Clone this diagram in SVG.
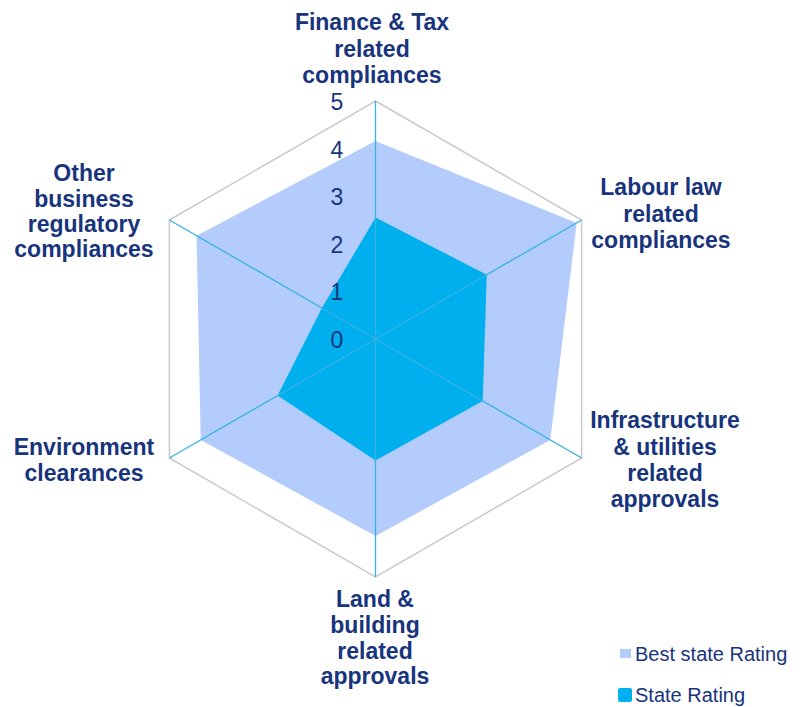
<svg xmlns="http://www.w3.org/2000/svg" width="802" height="707" viewBox="0 0 802 707">
<style>
.cat{font-family:"Liberation Sans",Arial,sans-serif;font-weight:bold;font-size:23px;fill:#17347C;text-anchor:middle}
.tick{font-family:"Liberation Sans",Arial,sans-serif;font-size:23px;fill:#17347C;text-anchor:middle}
.leg{font-family:"Liberation Sans",Arial,sans-serif;font-size:20px;fill:#17347C}
.axis{stroke:#35B2E4;stroke-width:1.3;fill:none}
</style>
<rect width="802" height="707" fill="#ffffff"/>
<g id="grid">
<polygon points="375.5,101 581.6,220 581.6,458 375.5,577 169.4,458 169.4,220" fill="none" stroke="#C9C9C9" stroke-width="1.5"/>
</g>
<g id="series-best">
<polygon points="375.5,141 576.7,222.9 550.3,439.9 375.5,536 200.7,439.9 196.6,235.7" fill="#B3CCFB"/>
</g>
<g id="series-state">
<polygon points="375.5,217.6 486.8,274.7 482.7,400.9 375.5,460.4 277.6,395.5 321.9,308.1" fill="#00B0EE"/>
</g>
<g id="connectors">
<line class="axis" x1="375.5" y1="339" x2="375.5" y2="101"/>
<line class="axis" x1="375.5" y1="339" x2="581.6" y2="220"/>
<line class="axis" x1="375.5" y1="339" x2="581.6" y2="458"/>
<line class="axis" x1="375.5" y1="339" x2="375.5" y2="577"/>
<line class="axis" x1="375.5" y1="339" x2="169.4" y2="458"/>
<line class="axis" x1="375.5" y1="339" x2="169.4" y2="220"/>
</g>
<g id="ticks">
<text class="tick" x="337" y="110">5</text>
<text class="tick" x="337" y="158">4</text>
<text class="tick" x="337" y="205">3</text>
<text class="tick" x="337" y="253">2</text>
<text class="tick" x="337" y="300">1</text>
<text class="tick" x="337" y="348">0</text>
</g>
<g id="label-finance">
<text class="cat" x="372" y="30">Finance &amp; Tax</text>
<text class="cat" x="372" y="57">related</text>
<text class="cat" x="372" y="83">compliances</text>
</g>
<g id="label-labour">
<text class="cat" x="661" y="195">Labour law</text>
<text class="cat" x="661" y="222">related</text>
<text class="cat" x="661" y="248">compliances</text>
</g>
<g id="label-infra">
<text class="cat" x="665" y="428">Infrastructure</text>
<text class="cat" x="665" y="455">&amp; utilities</text>
<text class="cat" x="665" y="481">related</text>
<text class="cat" x="665" y="507">approvals</text>
</g>
<g id="label-land">
<text class="cat" x="375" y="607">Land &amp;</text>
<text class="cat" x="375" y="633">building</text>
<text class="cat" x="375" y="659">related</text>
<text class="cat" x="375" y="684">approvals</text>
</g>
<g id="label-env">
<text class="cat" x="84" y="455">Environment</text>
<text class="cat" x="84" y="481">clearances</text>
</g>
<g id="label-other">
<text class="cat" x="84" y="181">Other</text>
<text class="cat" x="84" y="207">business</text>
<text class="cat" x="84" y="232">regulatory</text>
<text class="cat" x="84" y="257">compliances</text>
</g>
<g id="legend">
<rect x="620" y="649" width="11" height="9" fill="#B3CCFB"/>
<text class="leg" x="635" y="661">Best state Rating</text>
<rect x="618" y="688" width="14" height="14" rx="2" fill="#00B0EE"/>
<text class="leg" x="635" y="702">State Rating</text>
</g>
</svg>
